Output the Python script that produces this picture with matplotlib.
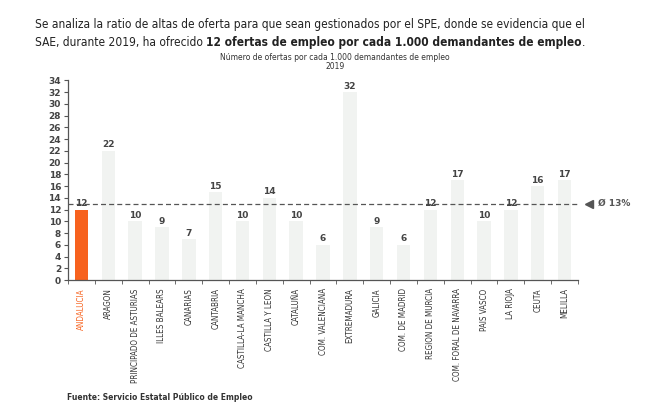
import matplotlib
matplotlib.use('Agg')
import matplotlib.pyplot as plt

plt.rcParams['font.family'] = ['DejaVu Sans']

regions = ['ANDALUCIA', 'ARAGON', 'PRINCIPADO DE ASTURIAS', 'ILLES BALEARS', 'CANARIAS',
           'CANTABRIA', 'CASTILLA-LA MANCHA', 'CASTILLA Y LEON', 'CATALUÑA', 'COM. VALENCIANA',
           'EXTREMADURA', 'GALICIA', 'COM. DE MADRID', 'REGION DE MURCIA', 'COM. FORAL DE NAVARRA',
           'PAIS VASCO', 'LA RIOJA', 'CEUTA', 'MELILLA']
ratio = [12, 22, 10, 9, 7, 15, 10, 14, 10, 6, 32, 9, 6, 12, 17, 10, 12, 16, 17]
media = 13

naranja = '#f7621e'
fig = plt.figure(figsize=(6.7, 4.08), dpi=100)
ax = fig.add_axes([0.1015, 0.3137, 0.7612, 0.4893])
x = list(range(len(regions)))
colors = [naranja] + ['#f1f3f1'] * (len(regions) - 1)
ax.bar(x, ratio, width=0.5, color=colors)
ax.axhline(media, color='#555555', ls=(0, (4, 2.5)), lw=0.9, zorder=1)
ax.plot([len(regions) - 0.1], [media], marker='<', color='#555555', ms=6, clip_on=False)
ax.text(len(regions) + 0.25, media, 'Ø 13%', fontsize=6.5, color='#555555',
        fontweight='bold', va='center')

for xi, v in zip(x, ratio):
    ax.text(xi, v + 1.0, str(v), ha='center', va='center', fontsize=6.5,
            fontweight='bold', color='#444444')

ax.set_xlim(-0.5, len(regions) - 0.5)
ax.set_ylim(0, 34)
ax.set_yticks(range(0, 35, 2))
ax.set_xticks(x)
ax.set_xticklabels(regions, rotation=90, fontsize=7, color='#333333', fontstretch='condensed')
ax.get_xticklabels()[0].set_color(naranja)
ax.set_xticks([i - 0.5 for i in range(len(regions) + 1)], minor=True)
ax.tick_params(axis='x', which='major', length=0, pad=6)
ax.tick_params(axis='x', which='minor', length=3, direction='out', color='#555555')
ax.tick_params(axis='y', length=3, direction='out', color='#555555', labelsize=6.5,
               labelcolor='#444444', pad=2)
for lab in ax.get_yticklabels():
    lab.set_fontweight('bold')
for s in ['top', 'right']:
    ax.spines[s].set_visible(False)
for s in ['left', 'bottom']:
    ax.spines[s].set_color('#555555')
    ax.spines[s].set_linewidth(0.9)

fig.canvas.draw()
r = fig.canvas.get_renderer()

# ajustar tamaño de etiquetas al ancho del original
lab = ax.get_xticklabels()[14]
h = lab.get_window_extent(renderer=r).height
for t in ax.get_xticklabels():
    t.set_fontsize(7 * 94 / h)

# texto superior
linea1 = 'Se analiza la ratio de altas de oferta para que sean gestionados por el SPE, donde se evidencia que el'
t1 = fig.text(0.052, 0.932, linea1, fontsize=10, color='#222222', va='baseline', fontstretch='condensed')
fs = 10 * 548 / t1.get_window_extent(renderer=r).width
t1.set_fontsize(fs)
partes = [('SAE, durante 2019, ha ofrecido ', 'normal'),
          ('12 ofertas de empleo por cada 1.000 demandantes de empleo', 'bold'),
          ('.', 'normal')]
xpos = 0.052
for txt, w in partes:
    t = fig.text(xpos, 0.888, txt, fontsize=fs, fontweight=w, color='#222222', va='baseline',
                 fontstretch='condensed')
    bb = t.get_window_extent(renderer=r)
    xpos += bb.width / fig.bbox.width

fig.text(0.5, 0.852, 'Número de ofertas por cada 1.000 demandantes de empleo', ha='center',
         fontsize=5.5, color='#333333')
fig.text(0.5, 0.831, '2019', ha='center', fontsize=5.5, color='#333333')
fig.text(0.1, 0.02, 'Fuente: Servicio Estatal Público de Empleo', fontsize=5.5,
         color='#333333', fontweight='bold')

fig.savefig('out.png')
